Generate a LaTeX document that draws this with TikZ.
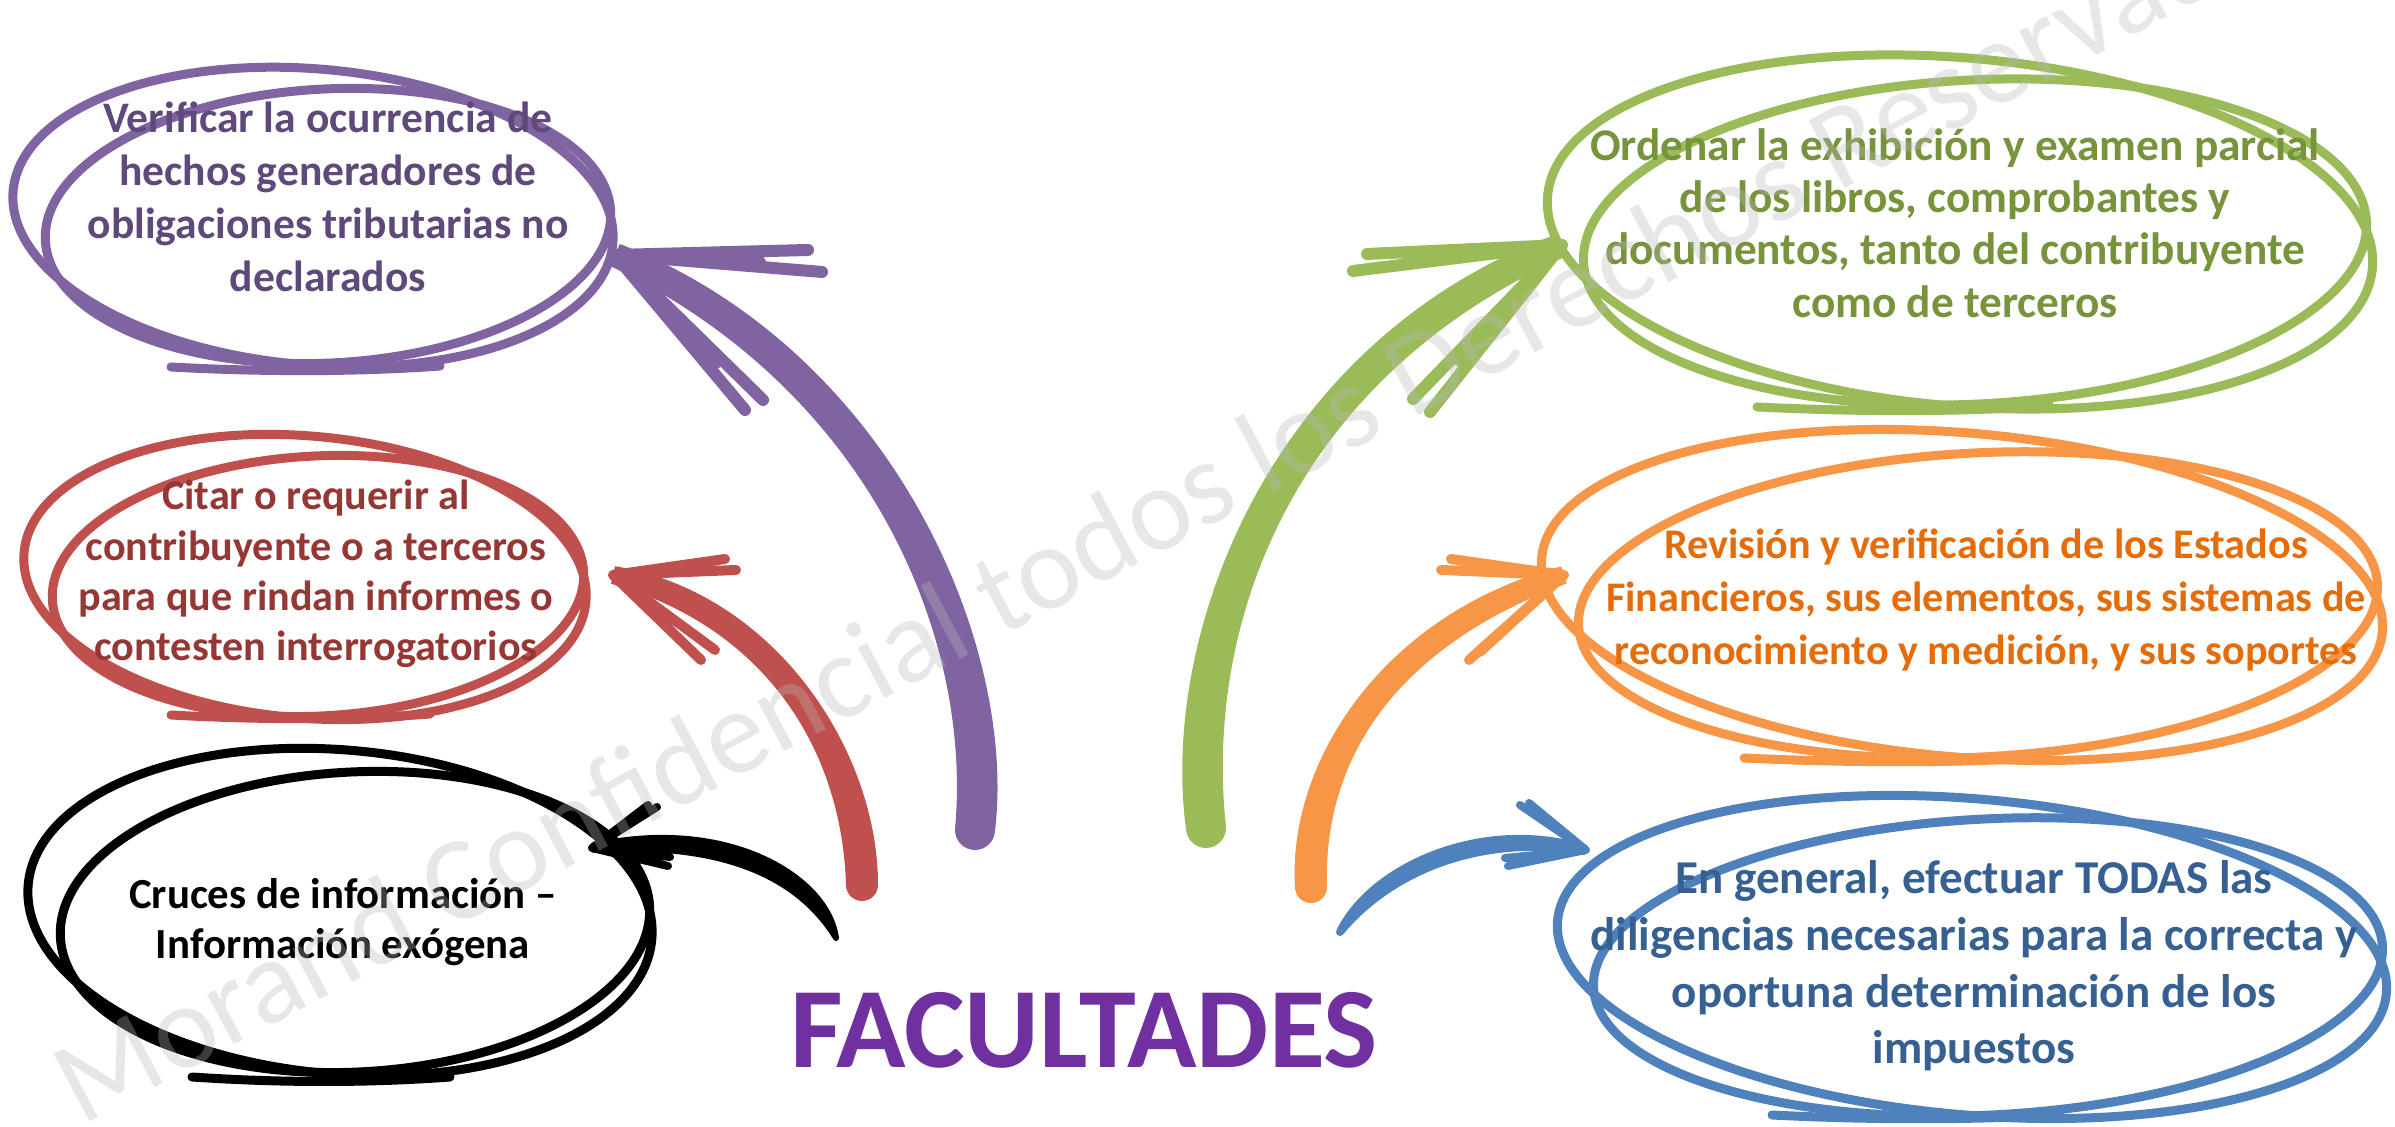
\documentclass[tikz,border=0pt]{standalone}
\usepackage{fontspec}
\setmainfont{Carlito}
\usetikzlibrary{calc}
\definecolor{morado}{HTML}{8064A2}
\definecolor{moradotxt}{HTML}{5F497A}
\definecolor{rojo}{HTML}{C0504D}
\definecolor{rojotxt}{HTML}{953735}
\definecolor{verde}{HTML}{9BBB59}
\definecolor{verdetxt}{HTML}{77933C}
\definecolor{naranja}{HTML}{F79646}
\definecolor{naranjatxt}{HTML}{E46C0A}
\definecolor{azul}{HTML}{4F81BD}
\definecolor{azultxt}{HTML}{366092}
\definecolor{titulo}{HTML}{7030A0}
\definecolor{marcagris}{RGB}{184,184,184}
\tikzset{
  lazo/.style={line width=0.9mm},
  dedo/.style={line width=1.2mm, line cap=round},
  texto/.style={align=center, inner sep=0pt}
}
% trazo de brocha: color, cola, control 1, control 2, punta, ancho cola, ancho medio, ancho punta
\newcommand{\brocha}[8]{%
  \fill[#1] ($(#2)!#6!90:(#3)$) .. controls ($(#3)!#7!-90:(#2)$) and ($(#4)!#7!90:(#5)$) .. ($(#5)!#8!-90:(#4)$)
    -- ($(#5)!#8!90:(#4)$) .. controls ($(#4)!#7!-90:(#5)$) and ($(#3)!#7!90:(#2)$) .. ($(#2)!#6!-90:(#3)$) -- cycle;
  \fill[#1] (#2) circle (#6);
}
\begin{document}
\begin{tikzpicture}
    \useasboundingbox (0,0) rectangle (23.95,-11.27);
    \fill[white] (0,0) rectangle (23.95,-11.27);

    % Verificar
    \draw[lazo, morado, rotate around={-5:(3.13,-2.17)}] (3.13,-2.17) ellipse (3.01 and 1.48);
    \draw[lazo, morado, rotate around={3:(3.28,-2.26)}] (3.28,-2.26) ellipse (2.83 and 1.37);
    \draw[lazo, morado, line cap=round] (1.71,-3.67) .. controls (2.6,-3.72) and (3.6,-3.72) .. (4.4,-3.66);
    \node[texto, moradotxt, font=\fontsize{12.4}{15.1}\selectfont\bfseries] (verificar) at (3.28,-1.97)
        {Verificar la ocurrencia de\\hechos generadores de\\obligaciones tributarias no\\declarados};

    % Citar
    \draw[lazo, rojo, rotate around={-5:(3.05,-5.77)}] (3.05,-5.77) ellipse (2.82 and 1.41);
    \draw[lazo, rojo, rotate around={3:(3.18,-5.86)}] (3.18,-5.86) ellipse (2.66 and 1.30);
    \draw[lazo, rojo, line cap=round] (1.71,-7.15) .. controls (2.6,-7.20) and (3.5,-7.20) .. (4.3,-7.14);
    \node[texto, rojotxt, font=\fontsize{12}{14.3}\selectfont\bfseries] (citar) at (3.16,-5.74)
        {Citar o requerir al\\contribuyente o a terceros\\para que rindan informes o\\contesten interrogatorios};

    % Cruces
    \draw[lazo, black, rotate around={-5:(3.40,-9.12)}] (3.40,-9.12) ellipse (3.13 and 1.62);
    \draw[lazo, black, rotate around={3:(3.55,-9.22)}] (3.55,-9.22) ellipse (2.95 and 1.50);
    \draw[lazo, black, line cap=round] (1.92,-10.77) .. controls (2.8,-10.83) and (3.7,-10.83) .. (4.5,-10.77);
    \node[texto, black, font=\fontsize{12.2}{14}\selectfont\bfseries] (cruces) at (3.43,-9.22)
        {Cruces de información –\\Información exógena};

    % Ordenar
    \draw[lazo, verde, rotate around={-5:(19.60,-2.32)}] (19.60,-2.32) ellipse (4.14 and 1.74);
    \draw[lazo, verde, rotate around={3:(19.75,-2.42)}] (19.75,-2.42) ellipse (3.92 and 1.62);
    \draw[lazo, verde, line cap=round] (17.57,-4.07) .. controls (18.6,-4.12) and (19.6,-4.12) .. (20.5,-4.06);
    \node[texto, verdetxt, font=\fontsize{12.9}{14.9}\selectfont\bfseries] (ordenar) at (19.55,-2.23)
        {Ordenar la exhibición y examen parcial\\de los libros, comprobantes y\\documentos, tanto del contribuyente\\como de terceros};

    % Revision
    \draw[lazo, naranja, rotate around={-5:(19.62,-5.95)}] (19.62,-5.95) ellipse (4.22 and 1.62);
    \draw[lazo, naranja, rotate around={3:(19.78,-6.05)}] (19.78,-6.05) ellipse (4.00 and 1.52);
    \draw[lazo, naranja, line cap=round] (17.44,-7.58) .. controls (18.5,-7.63) and (19.5,-7.63) .. (20.4,-7.58);
    \node[texto, naranjatxt, font=\fontsize{12}{15.1}\selectfont\bfseries] (revision) at (19.86,-6.00)
        {Revisión y verificación de los Estados\\Financieros, sus elementos, sus sistemas de\\reconocimiento y medición, y sus soportes};

    % En general
    \draw[lazo, azul, rotate around={-5:(19.72,-9.57)}] (19.72,-9.57) ellipse (4.16 and 1.58);
    \draw[lazo, azul, rotate around={3:(19.88,-9.67)}] (19.88,-9.67) ellipse (3.95 and 1.48);
    \draw[lazo, azul, line cap=round] (17.72,-11.15) .. controls (18.7,-11.20) and (19.7,-11.20) .. (20.6,-11.15);
    \node[texto, azultxt, font=\fontsize{13.4}{16.1}\selectfont\bfseries] (general) at (19.74,-9.66)
        {En general, efectuar TODAS las\\diligencias necesarias para la correcta y\\oportuna determinación de los\\impuestos};

    % titulo
    \node[texto, titulo, font=\fontsize{32.6}{38}\selectfont\bfseries] (facultades) at (10.84,-10.30) {FACULTADES};

    % puntas y colas de las flechas
    \coordinate (cV) at (9.75,-8.30);  \coordinate (pV) at (6.15,-2.55);
    \coordinate (cC) at (8.62,-8.85);  \coordinate (pC) at (6.13,-5.75);
    \coordinate (cX) at (8.36,-9.38);  \coordinate (pX) at (5.92,-8.48);
    \coordinate (cO) at (12.06,-8.28); \coordinate (pO) at (15.62,-2.45);
    \coordinate (cR) at (13.11,-8.87); \coordinate (pR) at (15.64,-5.75);
    \coordinate (cG) at (13.40,-9.32); \coordinate (pG) at (15.86,-8.50);

    % flecha morada
    \brocha{morado}{cV}{9.95,-6.40}{8.80,-3.70}{pV}{0.20cm}{0.23cm}{0.12cm}
    \fill[morado] (pV) -- +(1.45,0.04) -- +(1.55,-0.13) -- cycle;
    \fill[morado] (pV) -- +(0.98,-1.16) -- +(1.11,-1.09) -- cycle;
    \draw[dedo, morado] (pV) -- +(1.93,0.05) (pV) -- +(2.07,-0.17)
        (pV) -- +(1.30,-1.55) (pV) -- +(1.48,-1.45);

    % flecha roja
    \brocha{rojo}{cC}{8.60,-7.50}{7.70,-6.10}{pC}{0.16cm}{0.18cm}{0.09cm}
    \draw[dedo, rojo, line width=1mm] (pC) -- +(1.12,0.16) (pC) -- +(1.23,0.05)
        (pC) -- +(0.88,-0.85) (pC) -- +(1.02,-0.75);

    % flecha negra
    \brocha{black}{cX}{8.15,-8.80}{7.30,-8.28}{pX}{0.03cm}{0.16cm}{0.05cm}
    \draw[dedo, black, line width=0.8mm] (pX) -- +(0.56,0.43) (pX) -- +(0.65,0.41)
        (pX) -- +(0.78,-0.09) (pX) -- +(0.76,-0.18);

    % flecha verde
    \brocha{verde}{cO}{11.82,-6.30}{12.80,-3.60}{pO}{0.20cm}{0.23cm}{0.12cm}
    \fill[verde] (pO) -- +(-1.46,-0.07) -- +(-1.57,-0.20) -- cycle;
    \fill[verde] (pO) -- +(-1.12,-1.16) -- +(-0.99,-1.25) -- cycle;
    \draw[dedo, verde] (pO) -- +(-1.95,-0.09) (pO) -- +(-2.09,-0.26)
        (pO) -- +(-1.49,-1.54) (pO) -- +(-1.32,-1.67);

    % flecha naranja
    \brocha{naranja}{cR}{13.05,-7.60}{13.90,-6.30}{pR}{0.16cm}{0.18cm}{0.09cm}
    \draw[dedo, naranja, line width=1mm] (pR) -- +(-1.23,0.05) (pR) -- +(-1.13,0.16)
        (pR) -- +(-0.95,-0.85) (pR) -- +(-0.84,-0.77);

    % flecha azul
    \brocha{azul}{cG}{13.80,-8.70}{14.80,-8.25}{pG}{0.04cm}{0.13cm}{0.05cm}
    \draw[dedo, azul, line width=0.8mm] (pG) -- +(-0.66,0.45) (pG) -- +(-0.57,0.47)
        (pG) -- +(-0.81,-0.08) (pG) -- +(-0.78,-0.16);

    % marca de agua
    \node[texto, marcagris, text opacity=0.33, rotate=28, font=\fontsize{34}{40}\selectfont] (marca) at (11.85,-4.93)
        {Morand Confidencial todos los Derechos Reservados};
\end{tikzpicture}
\end{document}
